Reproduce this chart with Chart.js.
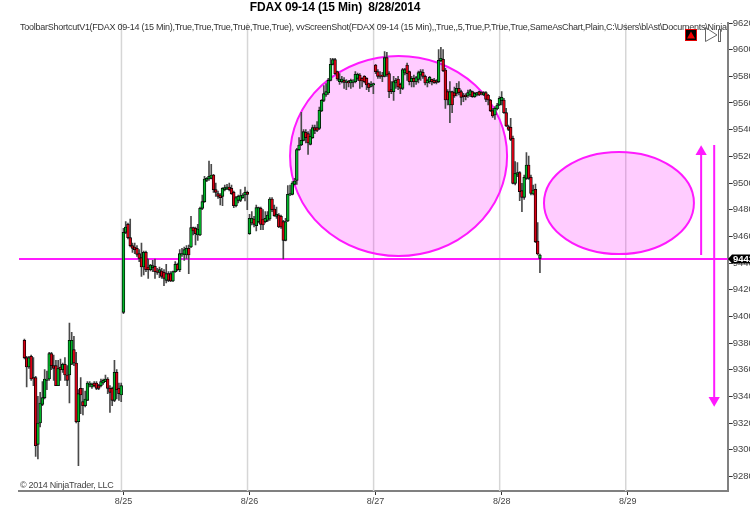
<!DOCTYPE html>
<html>
<head>
<meta charset="utf-8">
<title>FDAX 09-14 (15 Min)</title>
<script src="https://cdn.jsdelivr.net/npm/chart.js@4"></script>
<style>
  html, body { margin: 0; padding: 0; background: #fff; overflow: hidden; }
  canvas { display: block; }
</style>
</head>
<body>
<canvas id="priceChart" width="750" height="511"></canvas>
<script>
const chartTitle = "FDAX 09-14 (15 Min)  8/28/2014";
const indicatorLine = "ToolbarShortcutV1(FDAX 09-14 (15 Min),True,True,True,True,True,True), vvScreenShot(FDAX 09-14 (15 Min),,True,,5,True,P,True,True,SameAsChart,Plain,C:\\Users\\blAst\\Documents\\Ninja";
const copyright = "© 2014 NinjaTrader, LLC";

// 15 min bars, one slot per bar, first bar sits in slot 1
const firstSlot = 1;
const candleOpen = [
  9382, 9369, 9362, 9370, 9354, 9354, 9304, 9320, 9334, 9339,
  9352, 9353, 9372, 9363, 9363, 9348, 9362, 9360, 9364, 9356,
  9356, 9364, 9375, 9365, 9321, 9346, 9336, 9333, 9337, 9349,
  9347, 9350, 9350, 9348, 9348, 9350, 9351, 9353, 9346, 9346,
  9337, 9358, 9346, 9341,
  9403, 9463, 9469, 9459, 9453, 9452, 9451, 9447, 9444, 9437,
  9448, 9437, 9435, 9436.5, 9437.5, 9434, 9433, 9434, 9433, 9427,
  9432, 9432, 9426.5, 9433.5, 9439, 9435, 9446, 9446.5, 9446, 9451,
  9452, 9466.5, 9466, 9461, 9461, 9481, 9486, 9502, 9503, 9503.5,
  9506, 9495, 9492, 9491, 9490, 9495, 9495.5, 9497, 9496, 9493,
  9483, 9487, 9487, 9489, 9491, 9493,
  9462, 9470, 9473, 9468, 9471, 9481, 9473, 9471, 9472, 9473,
  9488, 9480.5, 9475, 9476, 9475, 9471, 9457, 9471.5, 9491, 9491.5,
  9499, 9502, 9525, 9528.5, 9532, 9538, 9537, 9529, 9534, 9541.5,
  9541.5, 9541, 9554, 9562, 9566, 9567.5, 9577, 9589, 9592.5, 9583.5,
  9576, 9576, 9577, 9575.5, 9576, 9575, 9575.5, 9576, 9578.5, 9581,
  9578.5, 9580, 9578.5, 9574.5, 9572.5, 9573.5,
  9588.5, 9583.5, 9581, 9581, 9580, 9594, 9582, 9570, 9568.5, 9575,
  9578, 9574, 9571, 9582.5, 9588.5, 9583.5, 9576, 9578.5, 9576, 9577.75,
  9581, 9583, 9580, 9575, 9576, 9577.75, 9577, 9576.75, 9576, 9591.75,
  9592.75, 9584.75, 9568.5, 9558.5, 9568.5, 9567.75, 9567.25, 9571, 9568.5, 9566,
  9566, 9565.25, 9566, 9568.5, 9564.75, 9566, 9568.5, 9567.75, 9566, 9567.75,
  9566, 9562.25, 9554.25, 9551, 9555.5, 9558.5,
  9561.75, 9562.25, 9552.75, 9542.25, 9541.75, 9533.5, 9499.75, 9506, 9507.75, 9494.25,
  9489.25, 9503.5, 9513.5, 9504.25, 9491.75, 9495.25, 9456.5, 9443.5
];
const candleClose = [
  9369, 9362, 9369, 9353, 9353, 9303, 9320, 9335, 9339, 9353,
  9353, 9372, 9363, 9361, 9348, 9361, 9360, 9364, 9356, 9352,
  9382, 9382, 9365, 9321, 9342, 9341, 9333, 9338, 9350, 9350,
  9349, 9348, 9346, 9346, 9351, 9352, 9353, 9346, 9343, 9337,
  9358, 9345, 9342, 9348,
  9463, 9467, 9459, 9453, 9451, 9450, 9446.5, 9443.5, 9437, 9448,
  9435, 9435, 9438.5, 9438, 9433.5, 9433, 9435, 9430, 9428.5, 9432,
  9427, 9426.5, 9433.5, 9439, 9435, 9447, 9447, 9450, 9451, 9446,
  9466.5, 9464, 9462, 9465.5, 9481, 9486, 9503, 9503.5, 9505, 9506,
  9495, 9493, 9490, 9489, 9496, 9496.5, 9497, 9495, 9492, 9483,
  9489, 9490, 9490.5, 9491, 9493, 9491.5,
  9473.5, 9473.5, 9469, 9481.5, 9481.5, 9469, 9468.5, 9473.5, 9476, 9488,
  9480, 9475.5, 9476.5, 9467, 9467, 9457, 9471, 9491.5, 9492, 9500,
  9501.5, 9525, 9528.5, 9532, 9538.5, 9534, 9530, 9535, 9541.5, 9539.5,
  9539.5, 9554.5, 9562, 9567, 9568.5, 9577, 9589, 9592.5, 9582, 9578,
  9578, 9578, 9575.5, 9576.5, 9575, 9577, 9576.5, 9581.5, 9581.5, 9576.5,
  9576.5, 9576, 9573.5, 9571.5, 9574, 9574.5,
  9583.5, 9580, 9580, 9580, 9594, 9581, 9568.5, 9568.5, 9576, 9577,
  9572, 9571, 9585, 9585, 9582, 9576, 9578.5, 9576, 9579, 9582.75,
  9583.5, 9580, 9575, 9577, 9579.25, 9576, 9575.25, 9575.5, 9592, 9593.5,
  9584.25, 9562.25, 9562.25, 9568.5, 9558.5, 9565.25, 9571, 9567.75, 9564.25, 9564.75,
  9564.75, 9567.75, 9569.25, 9564.75, 9567.25, 9567.75, 9566, 9566.75, 9567.75, 9562.75,
  9562.25, 9554.25, 9550.25, 9556, 9558.5, 9563.5,
  9564.25, 9552.75, 9542.75, 9540.25, 9532.75, 9499.75, 9507.25, 9507.75, 9493.5, 9489.25,
  9504.25, 9513.5, 9503.5, 9492.25, 9494.75, 9456, 9446.75, 9446
];
const candleHigh = [
  9383, 9370, 9370, 9371, 9369, 9355, 9340, 9343, 9351, 9360,
  9359, 9373, 9373, 9371, 9367, 9367, 9368, 9365, 9369, 9363,
  9395, 9388, 9385, 9373, 9345, 9354, 9346, 9344, 9351, 9351,
  9350, 9351, 9351, 9349, 9353, 9353, 9356, 9354, 9348, 9347,
  9367, 9360, 9350, 9350,
  9466, 9471, 9470, 9473, 9455, 9455, 9453, 9450, 9455, 9449,
  9449, 9443, 9439, 9442, 9443, 9436, 9437, 9436, 9435, 9439,
  9433.5, 9433.5, 9434, 9441, 9440, 9450, 9451, 9452, 9453, 9453.5,
  9475, 9467, 9467, 9469, 9482, 9491, 9505, 9504, 9516.5, 9514,
  9506.5, 9500, 9494, 9492, 9496.5, 9498.5, 9499, 9500, 9498.5, 9494,
  9490, 9491, 9495, 9492, 9497, 9494,
  9476.5, 9478.5, 9475, 9483.5, 9482, 9482, 9480, 9478.5, 9478.5, 9489,
  9489, 9483.5, 9482, 9477, 9476, 9472, 9473.5, 9498, 9498.5, 9501,
  9503.5, 9526, 9534, 9553, 9540, 9540, 9538.5, 9540, 9543.5, 9543.5,
  9546, 9557, 9562.5, 9573, 9574.5, 9578.5, 9593.5, 9593.5, 9593.5, 9584,
  9582, 9580, 9579, 9577.5, 9577, 9578, 9577.5, 9583.5, 9582.5, 9582,
  9579, 9580.5, 9579, 9575, 9576, 9575,
  9589, 9585, 9583.5, 9583, 9598.5, 9598, 9583.5, 9576, 9580, 9578.5,
  9580, 9575, 9586, 9586, 9590, 9584, 9580, 9581, 9580, 9584,
  9585, 9585, 9581, 9578, 9580, 9578, 9578.5, 9577.5, 9600, 9601.75,
  9600, 9586, 9570, 9576, 9569, 9572, 9574.75, 9576, 9569.75, 9567.25,
  9567, 9569.75, 9570.25, 9569, 9568, 9568, 9569, 9568.5, 9568.5, 9568.5,
  9566.5, 9562.75, 9556, 9557.25, 9559.75, 9564.75,
  9568.5, 9563.5, 9556, 9543.5, 9548.5, 9535.25, 9516, 9515.25, 9508.5, 9499.75,
  9506, 9522.75, 9520.25, 9506, 9498.5, 9499.25, 9470.25, 9446.75
];
const candleLow = [
  9368, 9347, 9361, 9352, 9348, 9295, 9293, 9317, 9333, 9338,
  9345, 9352, 9360, 9352, 9348, 9348, 9352, 9358, 9352, 9348,
  9335, 9364, 9363, 9320, 9288, 9327, 9326, 9332, 9337, 9347,
  9346, 9347, 9345, 9345, 9347, 9349, 9351, 9342, 9328, 9333,
  9336, 9338, 9337, 9336,
  9402, 9462, 9458, 9452, 9448, 9447, 9445, 9441, 9430, 9431,
  9433.5, 9428.5, 9434, 9433.5, 9428.5, 9431.5, 9429, 9428.5, 9423, 9425,
  9426, 9426, 9426, 9433, 9434, 9433.5, 9445, 9442, 9443.5, 9432,
  9451.5, 9461, 9453.5, 9457, 9460.5, 9480, 9485.5, 9501, 9502, 9503,
  9493, 9490, 9488.5, 9483.5, 9483, 9494, 9495, 9494, 9491.5, 9481.5,
  9482, 9485, 9486, 9488.5, 9486.5, 9480,
  9461.5, 9468.5, 9467, 9464, 9470, 9465, 9465, 9470, 9471, 9472,
  9478.5, 9475, 9473.5, 9466.5, 9466, 9443, 9456.5, 9471, 9490.5, 9491,
  9498.5, 9499, 9524.5, 9528, 9531.5, 9530, 9521.5, 9528.5, 9533.5, 9537,
  9538.5, 9540, 9553.5, 9561, 9565, 9566.5, 9576.5, 9588.5, 9581.5, 9577,
  9574, 9575, 9571, 9570, 9572, 9571, 9572, 9575, 9577, 9571,
  9572, 9575, 9570, 9568.5, 9572, 9567,
  9582, 9578.5, 9578.5, 9576, 9579.5, 9580, 9564, 9567, 9562, 9571,
  9570, 9567, 9570, 9581, 9577, 9573.5, 9572, 9572, 9574, 9575,
  9577, 9578.5, 9573.5, 9572, 9574.75, 9573.5, 9574.75, 9574.25, 9575.25, 9591,
  9583.5, 9556, 9558.5, 9545.25, 9552.75, 9564.25, 9565.25, 9566, 9558.5, 9561,
  9562.25, 9564.25, 9564.75, 9564.25, 9564.25, 9565.25, 9565.5, 9566, 9565.5, 9561,
  9558.5, 9553.5, 9549.25, 9547.75, 9554.75, 9558,
  9558.5, 9552.25, 9542.25, 9539.25, 9531.75, 9499.25, 9498.5, 9504.75, 9486.75, 9478.5,
  9487.75, 9502.75, 9502.75, 9491, 9491, 9455.25, 9446, 9432.75
];

const dayLabels = ["8/25", "8/26", "8/27", "8/28", "8/29"];
const daySlots = [45, 101, 157, 213, 269];
const priceTicks = [9620, 9600, 9580, 9560, 9540, 9520, 9500, 9480, 9460, 9440, 9420, 9400, 9380, 9360, 9340, 9320, 9300, 9280];
const priceTag = "9442";

// drawn objects on the chart, in slots and price points
const levelPrice = 9443;
const arrowUpSlot = 301.6;
const arrowUpPrices = [9446, 9523.5];
const arrowDownSlot = 307.4;
const arrowDownPrices = [9528.5, 9337];
const ellipseLarge = { slot: 167.2, price: 9520.25, slots: 48.2, points: 75 };
const ellipseSmall = { slot: 265.1, price: 9485, slots: 33.3, points: 38.25 };

const xMin = -1.4;
const xMax = 313.4;
const magenta = "#ff1aff";
const fontName = '"Liberation Sans", Arial, sans-serif';

const candleData = candleOpen.map((o, i) => ({ x: firstSlot + i, y: [o, candleClose[i]] }));
const wickData = candleHigh.map((h, i) => ({ x: firstSlot + i, y: [candleLow[i], h] }));
const candleFill = candleOpen.map((o, i) => (candleClose[i] >= o ? "#00b428" : "#d80014"));

// grid, ellipses behind the bars; texts and toolbar icons on top
const chartDecor = {
  id: "chartDecor",
  beforeDatasetsDraw(chart) {
    const { ctx, chartArea, scales } = chart;
    ctx.save();
    ctx.strokeStyle = "#d6d6d6";
    ctx.lineWidth = 1.5;
    daySlots.forEach((slot) => {
      const px = scales.x.getPixelForValue(slot) - 2;
      ctx.beginPath();
      ctx.moveTo(px, chartArea.top);
      ctx.lineTo(px, chartArea.bottom);
      ctx.stroke();
    });
    [ellipseLarge, ellipseSmall].forEach((e) => {
      const cx = scales.x.getPixelForValue(e.slot);
      const cy = scales.y.getPixelForValue(e.price);
      const rx = cx - scales.x.getPixelForValue(e.slot - e.slots);
      const ry = scales.y.getPixelForValue(e.price - e.points) - cy;
      ctx.beginPath();
      ctx.ellipse(cx, cy, rx, ry, 0, 0, Math.PI * 2);
      ctx.fillStyle = "rgba(255,0,255,0.2)";
      ctx.fill();
      ctx.strokeStyle = magenta;
      ctx.lineWidth = 2;
      ctx.stroke();
    });
    ctx.restore();
  },
  afterDraw(chart) {
    const { ctx, scales } = chart;
    ctx.save();

    ctx.textBaseline = "middle";
    ctx.textAlign = "center";
    ctx.fillStyle = "#000";
    ctx.font = "bold 12px " + fontName;
    ctx.letterSpacing = "-0.17px";
    ctx.fillText(chartTitle, 335, 8);

    ctx.textAlign = "left";
    ctx.fillStyle = "#333";
    ctx.font = "9px " + fontName;
    ctx.letterSpacing = "-0.26px";
    ctx.fillText(indicatorLine, 20, 28);
    ctx.fillStyle = "#444";
    ctx.fillText(copyright, 20, 486);
    ctx.letterSpacing = "0px";

    // last price tag
    const tagY = Math.round(scales.y.getPixelForValue(levelPrice));
    ctx.fillStyle = "#000";
    ctx.beginPath();
    ctx.moveTo(728, tagY);
    ctx.lineTo(732, tagY - 4.5);
    ctx.lineTo(750, tagY - 4.5);
    ctx.lineTo(750, tagY + 4.5);
    ctx.lineTo(732, tagY + 4.5);
    ctx.closePath();
    ctx.fill();
    ctx.fillStyle = "#fff";
    ctx.font = "bold 9.5px " + fontName;
    ctx.fillText(priceTag, 733, tagY + 0.5);

    // toolbar icons
    ctx.fillStyle = "#000";
    ctx.fillRect(685, 29, 12, 12);
    ctx.strokeStyle = "#e00000";
    ctx.lineWidth = 1;
    ctx.strokeRect(685.5, 29.5, 11, 11);
    ctx.fillStyle = "#f00000";
    ctx.beginPath();
    ctx.moveTo(691, 31.5);
    ctx.lineTo(695, 38.5);
    ctx.lineTo(687, 38.5);
    ctx.closePath();
    ctx.fill();
    ctx.strokeStyle = "#666";
    ctx.beginPath();
    ctx.moveTo(705.5, 27.5);
    ctx.lineTo(717, 35);
    ctx.lineTo(705.5, 41.5);
    ctx.closePath();
    ctx.stroke();
    ctx.strokeRect(718.5, 29.5, 2, 12);
    ctx.restore();
  }
};

const ctx = document.getElementById("priceChart").getContext("2d");
new Chart(ctx, {
  type: "bar",
  data: {
    datasets: [
      {
        label: "Level",
        type: "line",
        data: [{ x: xMin, y: levelPrice }, { x: xMax, y: levelPrice }],
        borderColor: magenta,
        borderWidth: 2,
        pointRadius: 0,
        order: 5
      },
      {
        label: "Wicks",
        data: wickData,
        backgroundColor: "#4a4a4a",
        barThickness: 1,
        grouped: false,
        order: 4
      },
      {
        label: "Candles",
        data: candleData,
        backgroundColor: candleFill,
        borderColor: "#000",
        borderWidth: 0.8,
        borderSkipped: false,
        barThickness: 2.8,
        grouped: false,
        order: 3
      },
      {
        label: "Arrow up",
        type: "line",
        data: arrowUpPrices.map((p) => ({ x: arrowUpSlot, y: p })),
        borderColor: magenta,
        borderWidth: 2,
        backgroundColor: magenta,
        pointBorderWidth: 0,
        pointStyle: "triangle",
        pointRadius: [0, 6.5],
        order: 2
      },
      {
        label: "Arrow down",
        type: "line",
        data: arrowDownPrices.map((p) => ({ x: arrowDownSlot, y: p })),
        borderColor: magenta,
        borderWidth: 2,
        backgroundColor: magenta,
        pointBorderWidth: 0,
        pointStyle: "triangle",
        pointRotation: 180,
        pointRadius: [0, 6.5],
        order: 1
      }
    ]
  },
  options: {
    responsive: false,
    animation: false,
    layout: { padding: { left: 19, top: 23, right: 0, bottom: 0 } },
    plugins: {
      legend: { display: false },
      title: { display: false },
      tooltip: { enabled: false }
    },
    scales: {
      x: {
        type: "linear",
        offset: false,
        min: xMin,
        max: xMax,
        afterBuildTicks: (scale) => {
          scale.ticks = daySlots.map((value) => ({ value }));
        },
        afterFit: (scale) => {
          scale.height = 20;
        },
        border: { display: true, color: "#808080", width: 2 },
        grid: { offset: false, drawOnChartArea: false, tickColor: "#333", tickLength: 4 },
        ticks: {
          autoSkip: false,
          maxRotation: 0,
          padding: 1,
          color: "#444",
          font: { family: fontName, size: 9 },
          callback: (value, index) => dayLabels[index]
        }
      },
      y: {
        type: "linear",
        position: "right",
        min: 9269,
        max: 9620,
        afterBuildTicks: (scale) => {
          scale.ticks = priceTicks.map((value) => ({ value }));
        },
        afterFit: (scale) => {
          scale.width = 22.3;
        },
        border: { display: true, color: "#808080", width: 2 },
        grid: { drawOnChartArea: false, tickColor: "#333", tickLength: 5 },
        ticks: {
          autoSkip: false,
          padding: 0,
          color: "#444",
          font: { family: fontName, size: 9.5 },
          callback: (value) => String(value)
        }
      }
    }
  },
  plugins: [chartDecor]
});
</script>
</body>
</html>
